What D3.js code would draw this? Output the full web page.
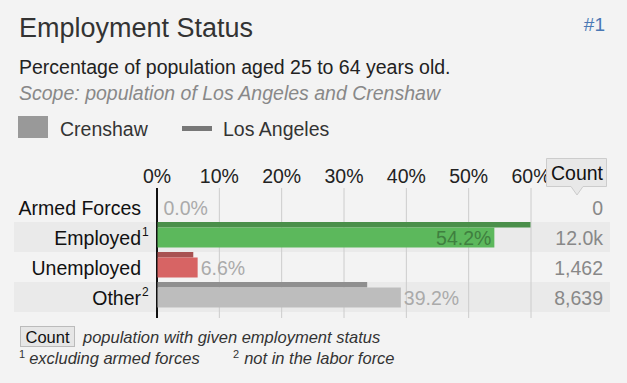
<!DOCTYPE html>
<html>
<head>
<meta charset="utf-8">
<script src="https://cdn.jsdelivr.net/npm/d3@7"></script>
<style>
  body { margin: 0; background: #f3f3f3; }
  svg { display: block; font-family: "Liberation Sans", Arial, sans-serif; }
</style>
</head>
<body>
<div id="container"></div>
<script>
const categories = ["Armed Forces", "Employed", "Unemployed", "Other"];
const footMarks = ["", "1", "", "2"];
const crenshaw = [0.0, 54.2, 6.6, 39.2];
const losAngeles = [0.0, 60.0, 5.9, 33.8];
const counts = ["0", "12.0k", "1,462", "8,639"];
const ticks = [0, 10, 20, 30, 40, 50, 60];

const width = 627, height = 383;
const fs = 19.5;
const barColor = ["#5cb85c", "#5cb85c", "#d76464", "#bdbdbd"];
const laColor = ["#4a8f4a", "#4a8f4a", "#a85252", "#8f8f8f"];

const svg = d3.create("svg")
    .attr("width", width)
    .attr("height", height);

svg.append("rect").attr("width", width).attr("height", height).attr("fill", "#f3f3f3");

// header
svg.append("text").attr("x", 19).attr("y", 37)
    .attr("font-size", 27).attr("fill", "#333").text("Employment Status");
svg.append("text").attr("x", 605).attr("y", 31).attr("text-anchor", "end")
    .attr("font-size", 19).attr("fill", "#4a78b4").text("#1");
svg.append("text").attr("x", 19).attr("y", 74)
    .attr("font-size", fs).attr("fill", "#222").text("Percentage of population aged 25 to 64 years old.");
svg.append("text").attr("x", 19).attr("y", 100)
    .attr("font-size", fs).attr("font-style", "italic").attr("fill", "#888")
    .text("Scope: population of Los Angeles and Crenshaw");

// legend
svg.append("rect").attr("x", 18).attr("y", 116).attr("width", 30).attr("height", 22).attr("fill", "#999");
svg.append("text").attr("x", 60).attr("y", 136).attr("font-size", fs).attr("fill", "#333").text("Crenshaw");
svg.append("rect").attr("x", 182).attr("y", 126).attr("width", 30).attr("height", 5).attr("fill", "#777");
svg.append("text").attr("x", 223).attr("y", 136).attr("font-size", fs).attr("fill", "#333").text("Los Angeles");

// scales
const x = d3.scaleLinear().domain([0, 60]).range([156.5, 530.5]);
const y = d3.scaleBand().domain(categories).range([192, 312]).padding(0);

// row bands
svg.append("g").selectAll("rect")
    .data(categories.filter((c, i) => i % 2 === 1))
    .join("rect")
    .attr("x", 14).attr("width", 596)
    .attr("y", d => y(d)).attr("height", y.bandwidth())
    .attr("fill", "#eaeaea");

// grid + axis labels
const axis = d3.axisTop(x).tickValues(ticks).tickFormat(d => d + "%")
    .tickSize(-130).tickPadding(5);
const ax = svg.append("g").attr("transform", "translate(0,188)").call(axis);
ax.select(".domain").remove();
ax.selectAll(".tick line").attr("stroke", "#ccc").attr("y2", 130);
ax.selectAll(".tick text").attr("font-size", fs).attr("fill", "#222")
    .attr("font-family", "Liberation Sans, Arial, sans-serif").attr("y", -5).attr("dy", 0);
ax.selectAll(".tick").filter(d => d === 0).select("line").attr("stroke", "#111").attr("stroke-width", 2);

// bars
const rows = svg.append("g").selectAll("g")
    .data(categories)
    .join("g")
    .attr("transform", d => `translate(0,${y(d)})`);

rows.append("rect")
    .attr("x", x(0) + 1)
    .attr("y", 0)
    .attr("height", 5.5)
    .attr("width", (d, i) => Math.max(0, x(losAngeles[i]) - x(0) - 1))
    .attr("fill", (d, i) => laColor[i]);

rows.append("rect")
    .attr("x", x(0) + 1)
    .attr("y", 5.5)
    .attr("height", 20)
    .attr("width", (d, i) => Math.max(0, x(crenshaw[i]) - x(0) - 1))
    .attr("fill", (d, i) => barColor[i]);

// value labels
rows.append("text")
    .attr("y", 23)
    .attr("font-size", fs)
    .attr("x", (d, i) => crenshaw[i] > 45 ? x(crenshaw[i]) - 3 : (crenshaw[i] === 0 ? x(0) + 7 : x(crenshaw[i]) + 3))
    .attr("text-anchor", (d, i) => crenshaw[i] > 45 ? "end" : "start")
    .attr("fill", (d, i) => crenshaw[i] > 45 ? "#3f7f3f" : "#aaa")
    .text((d, i) => crenshaw[i].toFixed(1) + "%");

// row labels
rows.append("text")
    .attr("x", 141).attr("y", 23)
    .attr("text-anchor", "end")
    .attr("font-size", fs).attr("fill", "#111")
    .text(d => d);
rows.filter((d, i) => footMarks[i]).append("text")
    .attr("x", 142).attr("y", 14)
    .attr("font-size", 12).attr("fill", "#111")
    .text((d) => footMarks[categories.indexOf(d)]);

// counts
rows.append("text")
    .attr("x", 603).attr("y", 23)
    .attr("text-anchor", "end")
    .attr("font-size", fs).attr("fill", "#888")
    .text((d, i) => counts[i]);

// count header with pointer
const ch = svg.append("g");
ch.append("path")
    .attr("d", "M546.5,158.5H606.5V186.5H583L577,195L571,186.5H546.5Z")
    .attr("fill", "#e8e8e8").attr("stroke", "#ccc");
ch.append("text").attr("x", 577).attr("y", 180).attr("text-anchor", "middle")
    .attr("font-size", fs).attr("fill", "#111").text("Count");

// footnotes
svg.append("rect").attr("x", 20.5).attr("y", 326.5).attr("width", 54).attr("height", 20)
    .attr("fill", "#e6e6e6").attr("stroke", "#bbb");
svg.append("text").attr("x", 47.5).attr("y", 342.5).attr("text-anchor", "middle")
    .attr("font-size", 16.5).attr("fill", "#111").text("Count");
svg.append("text").attr("x", 83).attr("y", 342.5)
    .attr("font-size", 16.5).attr("font-style", "italic").attr("fill", "#333")
    .text("population with given employment status");
const f1 = svg.append("text").attr("x", 19).attr("y", 364)
    .attr("font-size", 16.5).attr("font-style", "italic").attr("fill", "#333");
f1.append("tspan").attr("font-size", 11).attr("dy", -6).attr("font-style", "normal").text("1");
f1.append("tspan").attr("dy", 6).attr("dx", 4).text("excluding armed forces");
const f2 = svg.append("text").attr("x", 233).attr("y", 364)
    .attr("font-size", 16.5).attr("font-style", "italic").attr("fill", "#333");
f2.append("tspan").attr("font-size", 11).attr("dy", -6).attr("font-style", "normal").text("2");
f2.append("tspan").attr("dy", 6).attr("dx", 5).text("not in the labor force");

document.getElementById("container").append(svg.node());
</script>
</body>
</html>
